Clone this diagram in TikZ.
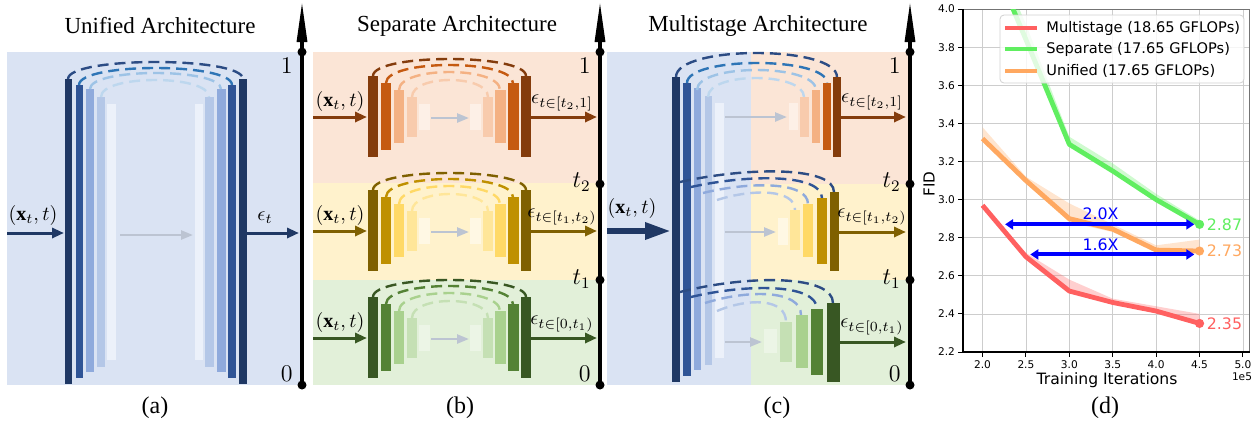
\documentclass[tikz,border=0pt]{standalone}
\usepackage{fontspec}
\setmainfont{Liberation Serif}
\newfontfamily\plotfont{DejaVu Sans}
\usepackage{amsmath,amssymb}
\usetikzlibrary{arrows.meta}

\definecolor{bgblue}{RGB}{218,227,243}
\definecolor{bgorange}{RGB}{251,229,214}
\definecolor{bgyellow}{RGB}{255,242,204}
\definecolor{bggreen}{RGB}{226,240,217}
\definecolor{bluea}{RGB}{31,56,100}
\definecolor{blueb}{RGB}{47,84,150}
\definecolor{bluec}{RGB}{143,170,220}
\definecolor{blued}{RGB}{180,199,231}
\definecolor{bluee}{RGB}{236,241,250}
\definecolor{skipa}{RGB}{44,76,132}
\definecolor{skipb}{RGB}{46,117,182}
\definecolor{skipc}{RGB}{157,195,230}
\definecolor{skipd}{RGB}{189,215,238}
\definecolor{ora}{RGB}{132,60,12}
\definecolor{orb}{RGB}{197,90,17}
\definecolor{orc}{RGB}{244,177,131}
\definecolor{ord}{RGB}{248,203,173}
\definecolor{ore}{RGB}{253,240,231}
\definecolor{yea}{RGB}{127,96,0}
\definecolor{yeb}{RGB}{191,144,0}
\definecolor{yec}{RGB}{255,217,102}
\definecolor{yed}{RGB}{255,230,153}
\definecolor{yee}{RGB}{255,248,228}
\definecolor{gra}{RGB}{56,87,35}
\definecolor{grb}{RGB}{84,130,53}
\definecolor{grc}{RGB}{169,209,142}
\definecolor{grd}{RGB}{197,224,180}
\definecolor{gre}{RGB}{236,245,230}
\definecolor{midgray}{RGB}{188,196,210}
\definecolor{plotred}{RGB}{255,96,96}
\definecolor{plotgreen}{RGB}{96,238,96}
\definecolor{plotorange}{RGB}{255,168,96}
\definecolor{gridgray}{RGB}{205,205,205}

\tikzset{
  timeaxis/.style={line width=1.6pt, -{Triangle[length=20pt,width=5pt]}},
  tdot/.style={circle, fill=black, inner sep=0pt, minimum size=4.5pt},
  tlabel/.style={anchor=east, inner sep=0pt, font=\fontsize{11.5}{13}\selectfont},
  skiparc/.style={dash pattern=on 5.5pt off 3pt, line width=1.2pt},
  inarrow/.style={line width=1.5pt, -{Triangle[length=6pt,width=5pt]}},
  midarrow/.style={draw=midgray, line width=1.2pt, -{Triangle[length=6pt,width=4.5pt]}},
  iolabel/.style={inner sep=0pt, font=\fontsize{10}{12}\selectfont},
  paneltitle/.style={font=\fontsize{11.5}{13}\selectfont},
  subcap/.style={font=\fontsize{12}{14}\selectfont},
  gridline/.style={draw=gridgray, line width=0.4pt},
  ticklbl/.style={inner sep=1pt, font=\plotfont\fontsize{5.3}{6}\selectfont},
  curve/.style={line width=2.4pt, line join=round},
  band/.style={opacity=0.3},
  ratio/.style={draw=blue, line width=2pt, {Triangle[length=4pt,width=5pt]}-{Triangle[length=4pt,width=5pt]}},
  valuelbl/.style={anchor=west, inner sep=0pt, font=\plotfont\fontsize{7.9}{9}\selectfont},
  legendtxt/.style={anchor=west, inner sep=0pt, font=\plotfont\fontsize{7.3}{9}\selectfont},
}

\begin{document}
\begin{tikzpicture}[x=0.5pt, y=-0.5pt]
\useasboundingbox (0,0) rectangle (1255,424);

% ---------------- (a) unified ----------------
\fill[bgblue] (7,52) rectangle (300,385);
\foreach \xa/\xb/\ya/\yb/\c in {65/72/79/384/bluea, 76/83/85/378/blueb, 86/94/89/372/bluec, 97/105/97/367/blued, 107/116/104/360/bluee,
    239/247/79/384/bluea, 228/236/85/378/blueb, 217/226/89/372/bluec, 205/214/97/367/blued, 195/203/104/360/bluee}
  \fill[fill=\c] (\xa,\ya) rectangle (\xb,\yb);
\foreach \xa/\xb/\y/\pk/\c in {68/243/79/62/skipa, 79/232/85/68/skipb, 90/221/89/73/skipc, 101/209/97/80/skipd}
  \draw[skiparc, draw=\c] (\xa,\y) .. controls (\xa,{\pk-(\y-\pk)/3}) and (\xb,{\pk-(\y-\pk)/3}) .. (\xb,\y);
\coordinate (ain) at (7,233);
\coordinate (aenc) at (64,233);
\coordinate (amidl) at (120,235);
\coordinate (amidr) at (193,235);
\coordinate (adec) at (247,233);
\coordinate (aout) at (299,233);
\draw[inarrow, bluea] (ain) -- (aenc);
\draw[midarrow] (amidl) -- (amidr);
\draw[inarrow, bluea] (adec) -- (aout);
\node[iolabel] (axin) at (33,215) {$(\mathbf{x}_t,t)$};
\node[iolabel] (aeps) at (265,218) {$\epsilon_t$};

% ---------------- (b) separate ----------------
\fill[bgorange] (313,52) rectangle (598,183);
\fill[bgyellow] (313,183) rectangle (598,280);
\fill[bggreen] (313,280) rectangle (598,385);
\foreach \dy/\ca/\cb/\cc/\cd/\ce/\rng in {0/ora/orb/orc/ord/ore/{[t_2,1]}, 114/yea/yeb/yec/yed/yee/{[t_1,t_2)}, 221/gra/grb/grc/grd/gre/{[0,t_1)}} {
  \foreach \xa/\xb/\y/\pk/\c in {373/526/76/59/\ca, 386/513/83/65/\cb, 399/500/90/72/\cc, 412/488/97/80/\cd}
    \draw[skiparc, draw=\c] (\xa,{\dy+\y}) .. controls (\xa,{\dy+\pk-(\y-\pk)/3}) and (\xb,{\dy+\pk-(\y-\pk)/3}) .. (\xb,{\dy+\y});
  \foreach \xa/\xb/\ya/\yb/\c in {368/378/76/157/\ca, 381/391/83/150/\cb, 394/404/90/143/\cc, 407/417/97/137/\cd, 419/430/104/130/\ce,
      470/481/104/130/\ce, 483/493/97/137/\cd, 495/506/90/143/\cc, 508/519/83/150/\cb, 521/531/76/157/\ca}
    \fill[fill=\c] (\xa,{\dy+\ya}) rectangle (\xb,{\dy+\yb});
  \coordinate (bin\dy) at (313,{\dy+117});
  \coordinate (benc\dy) at (367,{\dy+117});
  \coordinate (bmidl\dy) at (431,{\dy+118});
  \coordinate (bmidr\dy) at (469,{\dy+118});
  \coordinate (bdec\dy) at (531,{\dy+117});
  \coordinate (bout\dy) at (597,{\dy+117});
  \draw[inarrow, draw=\ca, fill=\ca] (bin\dy) -- (benc\dy);
  \draw[midarrow] (bmidl\dy) -- (bmidr\dy);
  \draw[inarrow, draw=\ca, fill=\ca] (bdec\dy) -- (bout\dy);
  \node[iolabel] (bxin\dy) at (340,{\dy+101}) {$(\mathbf{x}_t,t)$};
  \node[iolabel] (beps\dy) at (562,{\dy+103}) {$\epsilon_{t\in\rng}$};
}

% ---------------- (c) multistage ----------------
\fill[bgblue] (607,52) rectangle (751,385);
\fill[bgorange] (751,52) rectangle (908,184);
\fill[bgyellow] (751,184) rectangle (908,280);
\fill[bggreen] (751,280) rectangle (908,385);
\foreach \xa/\xb/\ya/\yb/\c in {672/680/77/382/bluea, 683/691/83/376/blueb, 694/701/88/370/bluec, 705/712/96/365/blued, 715/724/103/358/bluee}
  \fill[fill=\c] (\xa,\ya) rectangle (\xb,\yb);
% skips into the first decoder
\foreach \xa/\xb/\y/\pk/\c in {676/837/77/53/skipa, 687/827/83/63/skipb, 697/816/90/70/skipc, 708/804/97/78/skipd}
  \draw[skiparc, draw=\c] (\xa,\y) .. controls (\xa,{\pk-(\y-\pk)/3}) and (\xb,{\pk-(\y-\pk)/3}) .. (\xb,\y);
% skips into the later decoders
\foreach \xa/\ya/\xb/\yb/\pk/\c in {680/182/834/192/174/skipa, 691/187/822/198/181/blueb, 703/193/808/204/188/bluec, 717/200/795/210/195/blued,
    680/292/833/303/283/skipa, 691/297/817/309/291/blueb, 705/303/801/315/297/bluec, 717/311/786/322/305/blued}
  \draw[skiparc, draw=\c] (\xa,\ya) .. controls ({\xa+0.45*(\xb-\xa)},{\pk-(\yb-\pk)/2.4}) and (\xb,{\pk-(\yb-\pk)/2.4}) .. (\xb,\yb);
\foreach \xa/\xb/\ya/\yb/\c in {789/798/103/130/ore, 800/809/97/137/ord, 812/820/90/143/orc, 823/831/83/150/orb, 833/841/77/157/ora,
    778/788/218/245/yee, 790/800/210/250/yed, 803/813/204/257/yec, 817/827/198/264/yeb, 830/839/192/271/yea,
    764/777/329/353/gre, 780/792/322/362/grd, 796/808/315/368/grc, 811/823/309/375/grb, 827/840/303/382/gra}
  \fill[fill=\c] (\xa,\ya) rectangle (\xb,\yb);
\coordinate (cin) at (607,231);
\coordinate (cenc) at (671,231);
\draw[bluea, line width=3pt, -{Triangle[length=13pt,width=8pt]}] (cin) -- (cenc);
\node[iolabel] (cxin) at (632,208) {$(\mathbf{x}_t,t)$};
\foreach \yy/\ml/\mr/\xd/\c/\rng in {117/787/841/ora/{[t_2,1]}, 232/776/839/yea/{[t_1,t_2)}, 342/762/840/gra/{[0,t_1)}} {
  \coordinate (cmidl\yy) at (725,\yy);
  \coordinate (cmidr\yy) at (\ml,\yy);
  \coordinate (cdec\yy) at (\mr,\yy);
  \coordinate (cout\yy) at (906,\yy);
  \draw[midarrow] (cmidl\yy) -- (cmidr\yy);
  \draw[inarrow, draw=\xd, fill=\xd] (cdec\yy) -- (cout\yy);
  \node[iolabel] (ceps\yy) at (872,{\yy-15}) {$\epsilon_{t\in\c}$};
}

% ---------------- time axes ----------------
\foreach \ax in {302,600,910} {
  \draw[timeaxis] (\ax,385) -- (\ax,2);
  \node[tdot] (top\ax) at (\ax,52) {};
  \node[tdot] (bot\ax) at (\ax,385) {};
  \node[tlabel] (one\ax) at (\ax-9,66) {$1$};
  \node[tlabel] (zero\ax) at (\ax-9,374) {$0$};
}
\foreach \ax in {600,910} {
  \node[tdot] (ttwo\ax) at (\ax,184) {};
  \node[tdot] (tone\ax) at (\ax,280) {};
  \node[tlabel] (ltwo\ax) at (\ax-9,182) {$t_2$};
  \node[tlabel] (lone\ax) at (\ax-9,279) {$t_1$};
}

% titles and captions
\node[paneltitle] (ta) at (160,26) {Unified Architecture};
\node[paneltitle] (tb) at (457,26) {Separate Architecture};
\node[paneltitle] (tc) at (758,26) {Multistage Architecture};
\node[subcap] (capa) at (155,408) {(a)};
\node[subcap] (capb) at (460,408) {(b)};
\node[subcap] (capc) at (777,408) {(c)};
\node[subcap] (capd) at (1105,408) {(d)};

% ---------------- (d) FID curves ----------------
\begin{scope}[shift={(808.93,771.1)}, x=43.4pt, y=95.25pt]
  \foreach \gx [count=\i] in {2.0,2.5,3.0,3.5,4.0,4.5,5.0} {
    \draw[gridline] (\gx,2.2) -- (\gx,4.0);
    \draw[line width=0.5pt] (\gx,2.2) -- (\gx,2.174);
    \node[ticklbl, anchor=north] (xt\i) at (\gx,2.168) {\gx};
  }
  \foreach \gy [count=\i] in {2.2,2.4,2.6,2.8,3.0,3.2,3.4,3.6,3.8,4.0} {
    \draw[gridline] (1.775,\gy) -- (5.08,\gy);
    \draw[line width=0.5pt] (1.775,\gy) -- (1.718,\gy);
    \node[ticklbl, anchor=east] (yt\i) at (1.71,\gy) {\gy};
  }
  \draw[black!55, line width=0.5pt] (1.775,4.0) -- (5.08,4.0) -- (5.08,2.2);
  \draw[line width=0.6pt] (1.775,4.0) -- (1.775,2.2) -- (5.08,2.2);
  \begin{scope}
    \clip (1.775,2.2) rectangle (5.08,4.0);
    \fill[plotgreen, band] (2.0,4.45) -- (2.5,3.92) -- (3.0,3.33) -- (3.5,3.19) -- (4.0,3.03) -- (4.5,2.89)
      -- (4.5,2.86) -- (4.0,3.0) -- (3.5,3.15) -- (3.0,3.29) -- (2.5,3.84) -- (2.0,4.38) -- cycle;
    \fill[plotorange, band] (2.0,3.38) -- (2.5,3.12) -- (3.0,2.98) -- (3.5,2.87) -- (4.0,2.76) -- (4.5,2.79)
      -- (4.5,2.72) -- (4.0,2.73) -- (3.5,2.83) -- (3.0,2.88) -- (2.5,3.10) -- (2.0,3.32) -- cycle;
    \fill[plotred, band] (2.0,2.97) -- (2.5,2.72) -- (3.0,2.58) -- (3.5,2.48) -- (4.0,2.44) -- (4.5,2.40)
      -- (4.5,2.35) -- (4.0,2.41) -- (3.5,2.46) -- (3.0,2.52) -- (2.5,2.70) -- (2.0,2.97) -- cycle;
    \draw[curve, plotgreen] plot coordinates {(2.0,4.38) (2.5,3.84) (3.0,3.29) (3.5,3.15) (4.0,3.0) (4.5,2.87)};
    \draw[curve, plotorange] plot coordinates {(2.0,3.32) (2.5,3.10) (3.0,2.90) (3.5,2.845) (4.0,2.735) (4.5,2.73)};
    \draw[curve, plotred] plot coordinates {(2.0,2.97) (2.5,2.70) (3.0,2.52) (3.5,2.46) (4.0,2.415) (4.5,2.35)};
  \end{scope}
  \fill[plotgreen] (4.5,2.87) circle (2.3pt);
  \fill[plotorange] (4.5,2.73) circle (2.3pt);
  \fill[plotred] (4.5,2.35) circle (2.3pt);
  \node[valuelbl, text=plotgreen] (vsep) at (4.58,2.87) {2.87};
  \node[valuelbl, text=plotorange] (vuni) at (4.58,2.73) {2.73};
  \node[valuelbl, text=plotred] (vmul) at (4.58,2.35) {2.35};
  \coordinate (twol) at (2.26,2.87);
  \coordinate (twor) at (4.44,2.87);
  \coordinate (onel) at (2.55,2.712);
  \coordinate (oner) at (4.44,2.712);
  \draw[ratio] (twol) -- (twor);
  \draw[ratio] (onel) -- (oner);
  \node[inner sep=0pt, text=blue, font=\plotfont\fontsize{7.9}{9}\selectfont] (rtwo) at (3.36,2.925) {2.0X};
  \node[inner sep=0pt, text=blue, font=\plotfont\fontsize{7.9}{9}\selectfont] (rone) at (3.36,2.765) {1.6X};
\end{scope}
\node[font=\plotfont\fontsize{7.6}{9}\selectfont, rotate=90] (fid) at (929,184) {FID};
\node[font=\plotfont\fontsize{7.8}{9}\selectfont] (iters) at (1107,380) {Training Iterations};
\node[ticklbl] (expo) at (1242,377) {1e5};
% legend
\draw[draw=black!18, fill=white, fill opacity=0.8, rounded corners=2pt, line width=0.4pt] (1000,15) rectangle (1244,83);
\foreach \yy/\c/\txt in {28/plotred/{Multistage (18.65 GFLOPs)}, 49/plotgreen/{Separate (17.65 GFLOPs)}, 71/plotorange/{Unified (17.65 GFLOPs)}} {
  \coordinate (lega\yy) at (1005,\yy);
  \coordinate (legb\yy) at (1037,\yy);
  \draw[draw=\c, line width=2.4pt] (lega\yy) -- (legb\yy);
  \node[legendtxt] (legt\yy) at (1046,\yy) {\txt};
}
\end{tikzpicture}
\end{document}
